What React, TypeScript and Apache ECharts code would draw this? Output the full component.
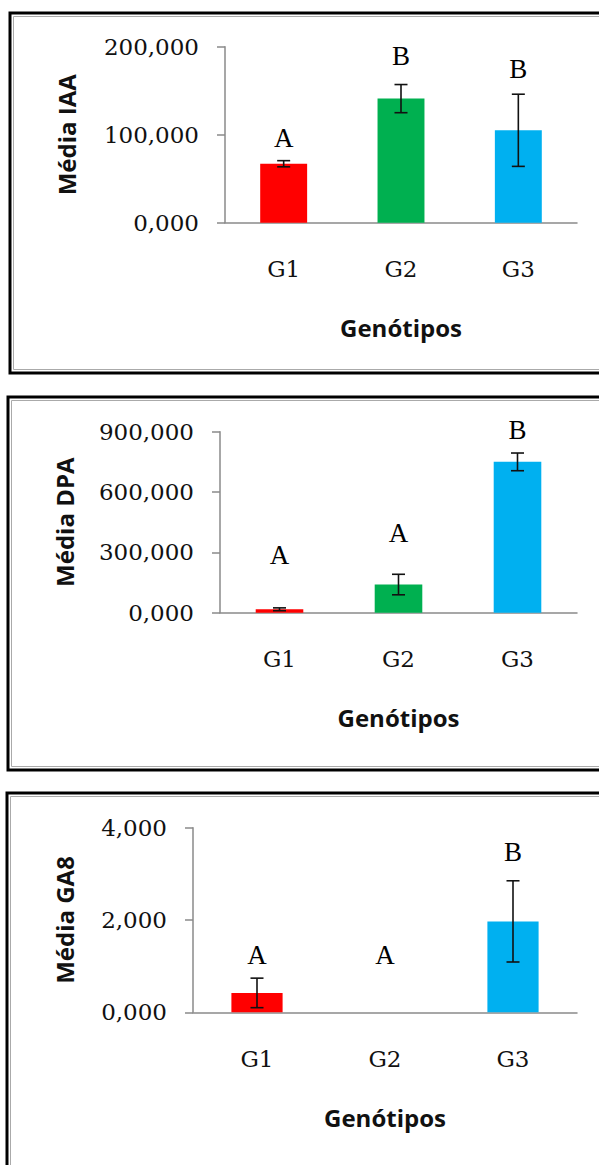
import React, { useEffect, useRef } from "react";
import * as echarts from "echarts";

const categories = ["G1", "G2", "G3"];
const barColors = ["#FF0000", "#00B050", "#00B0F0"];

// Panel 1: Média IAA
const iaaMeans = [67, 141, 105];
const iaaErrors = [3.5, 16, 41];
const iaaLetters = ["A", "B", "B"];
const iaaLetterY = [96, 190, 175];

// Panel 2: Média DPA
const dpaMeans = [17, 140, 750];
const dpaErrors = [7, 51, 44];
const dpaLetters = ["A", "A", "B"];
const dpaLetterY = [287, 395, 908];

// Panel 3: Média GA8
const ga8Means = [0.42, 0, 1.97];
const ga8Errors = [0.32, 0, 0.88];
const ga8Letters = ["A", "A", "B"];
const ga8LetterY = [1.245, 1.245, 3.465];

const yMax = [200, 900, 4];
const yInterval = [100, 300, 2];
const yTitles = ["Média IAA", "Média DPA", "Média GA8"];
const xTitle = "Genótipos";

const panels = [
  { means: iaaMeans, errs: iaaErrors, letters: iaaLetters, letterY: iaaLetterY },
  { means: dpaMeans, errs: dpaErrors, letters: dpaLetters, letterY: dpaLetterY },
  { means: ga8Means, errs: ga8Errors, letters: ga8Letters, letterY: ga8LetterY },
];

const grids = [
  { left: 225, top: 46.7, width: 352, height: 176 },
  { left: 220, top: 431.7, width: 357, height: 181 },
  { left: 193, top: 827.7, width: 384, height: 184.6 },
];
const yNameGaps = [147, 144, 117];
const boxes = [
  { x: 10, y: 13, w: 600, h: 360 },
  { x: 8, y: 397, w: 600, h: 373 },
  { x: 7, y: 793, w: 600, h: 420 },
];

const AXIS_GRAY = "#8a8a8a";

export default function App() {
  const ref = useRef<HTMLDivElement>(null);

  useEffect(() => {
    document.body.style.margin = "0";
    const chart = echarts.init(ref.current!, null, { renderer: "svg" });

    const xAxis: any[] = [];
    const yAxis: any[] = [];
    const series: any[] = [];

    panels.forEach((p, k) => {
      xAxis.push({
        type: "category",
        gridIndex: k,
        data: categories,
        axisTick: { show: false },
        axisLine: { lineStyle: { color: AXIS_GRAY, width: 1.5 } },
        axisLabel: {
          margin: 35,
          fontFamily: "DejaVu Serif",
          fontSize: 23,
          color: "#111",
        },
        name: xTitle,
        nameLocation: "middle",
        nameGap: 93,
        nameTextStyle: {
          fontFamily: "Open Sans",
          fontWeight: "bold",
          fontSize: 24,
          color: "#111",
        },
      });
      yAxis.push({
        type: "value",
        gridIndex: k,
        min: 0,
        max: yMax[k],
        interval: yInterval[k],
        splitLine: { show: false },
        axisLine: { show: true, lineStyle: { color: AXIS_GRAY, width: 1.5 } },
        axisTick: { show: true, length: 8, lineStyle: { color: AXIS_GRAY, width: 1.5 } },
        axisLabel: {
          margin: 26,
          fontFamily: "DejaVu Serif",
          fontSize: 23,
          color: "#111",
          formatter: (v: number) => v.toFixed(3).replace(".", ","),
        },
        name: yTitles[k],
        nameLocation: "middle",
        nameRotate: 90,
        nameGap: yNameGaps[k],
        nameTextStyle: {
          fontFamily: "Open Sans",
          fontWeight: "bold",
          fontSize: 24,
          color: "#111",
        },
      });

      series.push({
        type: "bar",
        xAxisIndex: k,
        yAxisIndex: k,
        barWidth: "40%",
        data: p.means.map((v, i) => ({ value: v, itemStyle: { color: barColors[i] } })),
      });

      series.push({
        type: "custom",
        xAxisIndex: k,
        yAxisIndex: k,
        z: 5,
        data: p.means.map((v, i) => [i, v, p.errs[i]]),
        encode: { x: 0, y: 1 },
        renderItem: (params: any, api: any) => {
          const i = api.value(0);
          const m = api.value(1);
          const e = api.value(2);
          if (!e) return null;
          const top = api.coord([i, m + e]);
          const bot = api.coord([i, m - e]);
          const hw = 6.5;
          const st = { stroke: "#111", lineWidth: 1.6 };
          return {
            type: "group",
            children: [
              { type: "line", shape: { x1: top[0], y1: top[1], x2: bot[0], y2: bot[1] }, style: st },
              { type: "line", shape: { x1: top[0] - hw, y1: top[1], x2: top[0] + hw, y2: top[1] }, style: st },
              { type: "line", shape: { x1: bot[0] - hw, y1: bot[1], x2: bot[0] + hw, y2: bot[1] }, style: st },
            ],
          };
        },
      });

      series.push({
        type: "custom",
        xAxisIndex: k,
        yAxisIndex: k,
        z: 6,
        clip: false,
        data: p.letters.map((l, i) => [i, p.letterY[i], l]),
        encode: { x: 0, y: 1 },
        renderItem: (params: any, api: any) => {
          const i = api.value(0);
          const y = api.value(1);
          const c = api.coord([i, y]);
          return {
            type: "text",
            x: c[0],
            y: c[1],
            style: {
              text: p.letters[i],
              fontFamily: "Liberation Serif",
              fontSize: 27,
              fill: "#000",
              align: "center",
              verticalAlign: "middle",
            },
          };
        },
      });
    });

    const graphic: any[] = [];
    boxes.forEach((b) => {
      graphic.push({
        type: "rect",
        shape: { x: b.x, y: b.y, width: b.w, height: b.h },
        style: { fill: "none", stroke: "#000", lineWidth: 3 },
        silent: true,
      });
      graphic.push({
        type: "rect",
        shape: { x: b.x + 3.5, y: b.y + 3.5, width: b.w - 7, height: b.h - 7 },
        style: { fill: "none", stroke: "#aaa", lineWidth: 1 },
        silent: true,
      });
    });

    chart.setOption({
      animation: false,
      backgroundColor: "#fff",
      grid: grids,
      xAxis,
      yAxis,
      series,
      graphic,
    });

    return () => chart.dispose();
  }, []);

  return <div ref={ref} style={{ width: 599, height: 1165 }} />;
}
